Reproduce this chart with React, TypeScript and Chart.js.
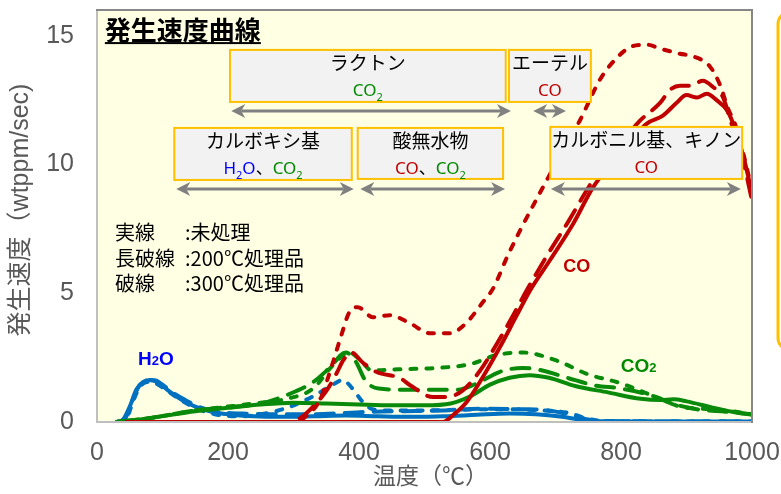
import React, { useEffect, useRef } from 'react';
import { Chart, registerables } from 'chart.js';

Chart.register(...registerables);

// ---------- axis ticks ----------
const xTicks = [0, 200, 400, 600, 800, 1000];
const yTicks = [0, 5, 10, 15];

// ---------- series data: [temperature ℃, rate wtppm/sec] ----------
type P = [number, number];

const coSolid: P[] = [[45,0],[528,0],[545,0.3],[565,0.8],[595,2.0],[615,2.9],[640,4.1],[661,5.1],[692,6.3],[727,7.7],[757,9.1],[790,10.2],[820,11.1],[840,11.6],[864,11.9],[885,12.4],[900,12.7],[916,12.6],[931,12.75],[946,12.5],[962,12.1],[971,11.6],[986,10.4],[1000,8.9]];
const coLong: P[] = [[45,0],[295,0],[310,0.15],[330,0.6],[351,1.24],[366,1.9],[376,2.4],[388,2.7],[406,2.3],[427,1.94],[463,1.7],[478,1.43],[513,0.97],[534,0.97],[559,1.24],[585,2.0],[605,2.8],[630,3.9],[658,5.2],[688,6.5],[720,7.8],[755,9.3],[790,10.5],[829,11.7],[860,12.4],[875,12.9],[890,13.06],[905,13.06],[925,13.25],[941,13.0],[956,12.6],[966,11.8],[986,10.2],[1000,8.6]];
const coShort: P[] = [[45,0],[305,0],[318,0.2],[340,0.85],[360,2.3],[371,3.2],[386,4.3],[398,4.46],[421,4.07],[447,4.15],[478,3.83],[508,3.45],[539,3.45],[562,3.8],[589,4.65],[605,5.2],[626,6.4],[646,7.44],[672,8.7],[689,9.5],[710,10.5],[737,11.7],[768,13.3],[794,14.15],[818,14.6],[840,14.65],[860,14.5],[890,14.3],[910,14.2],[936,13.8],[951,13.1],[963,12.2],[975,11.5],[988,10.3],[1000,9.0]];

const co2Solid: P[] = [[30,0],[80,0.15],[150,0.42],[200,0.55],[250,0.68],[300,0.75],[350,0.72],[400,0.68],[450,0.65],[500,0.65],[540,0.72],[570,1.0],[600,1.45],[630,1.72],[660,1.82],[690,1.72],[730,1.4],[780,1.15],[830,0.9],[860,0.85],[880,0.88],[900,0.8],[940,0.56],[970,0.4],[1000,0.28]];
const co2Long: P[] = [[30,0],[80,0.15],[150,0.45],[200,0.58],[250,0.72],[290,1.05],[330,1.55],[355,2.1],[380,2.7],[395,2.35],[410,1.6],[430,1.3],[480,1.25],[550,1.25],[580,1.5],[615,1.95],[650,2.1],[680,2.0],[720,1.7],[760,1.42],[800,1.3],[850,1.0],[880,0.7],[920,0.48],[960,0.4],[1000,0.3]];
const co2Short: P[] = [[30,0],[80,0.15],[150,0.45],[200,0.6],[250,0.75],[290,0.9],[330,1.3],[360,2.2],[385,2.7],[400,2.45],[420,2.0],[460,2.05],[520,2.1],[570,2.25],[610,2.6],[650,2.7],[700,2.4],[750,1.85],[800,1.5],[850,1.0],[890,0.6],[930,0.5],[970,0.42],[1000,0.3]];

const h2oSolid: P[] = [[30,0],[40,0.1],[50,0.6],[60,1.25],[70,1.55],[82,1.63],[95,1.5],[110,1.2],[130,0.85],[150,0.6],[175,0.4],[200,0.3],[240,0.22],[280,0.2],[330,0.22],[380,0.25],[430,0.22],[480,0.2],[530,0.22],[580,0.28],[630,0.33],[670,0.3],[710,0.2],[740,0.08],[770,0.03],[850,0.02],[1000,0.02]];
const h2oLong: P[] = [[30,0],[42,0.1],[52,0.7],[62,1.3],[74,1.6],[88,1.62],[100,1.45],[115,1.15],[135,0.85],[160,0.55],[190,0.38],[230,0.32],[280,0.3],[330,0.3],[380,0.35],[420,0.4],[470,0.42],[530,0.45],[590,0.52],[640,0.5],[690,0.45],[720,0.3],[750,0.1],[780,0.03],[1000,0.02]];
const h2oShort: P[] = [[30,0],[45,0.15],[55,0.8],[65,1.35],[78,1.55],[90,1.5],[105,1.25],[125,0.9],[150,0.55],[180,0.3],[220,0.22],[250,0.3],[290,0.55],[330,1.0],[360,1.45],[375,1.63],[390,1.3],[405,0.8],[420,0.5],[440,0.45],[500,0.45],[560,0.48],[620,0.5],[680,0.45],[720,0.35],[750,0.12],[780,0.03],[1000,0.02]];

// ---------- styles ----------
const RED = '#c00000';
const GREEN = '#0a8a0a';
const BLUE = '#0070c0';
const TXT_RED = '#c00000';
const TXT_GREEN = '#008a00';
const TXT_BLUE = '#0000ff';
const AXIS_GRAY = '#595959';
const LONG = [18, 11];
const SHORT = [6, 10];
const JP = '"Noto Sans CJK JP"';
const LAT = '"Liberation Sans", Arial';

const seriesDefs = [
  { label: 'CO 300℃処理品', pts: coShort, color: RED, dash: SHORT },
  { label: 'CO 200℃処理品', pts: coLong, color: RED, dash: LONG },
  { label: 'CO 未処理', pts: coSolid, color: RED, dash: [] as number[] },
  { label: 'CO2 300℃処理品', pts: co2Short, color: GREEN, dash: SHORT },
  { label: 'CO2 200℃処理品', pts: co2Long, color: GREEN, dash: LONG },
  { label: 'CO2 未処理', pts: co2Solid, color: GREEN, dash: [] as number[] },
  { label: 'H2O 300℃処理品', pts: h2oShort, color: BLUE, dash: SHORT },
  { label: 'H2O 200℃処理品', pts: h2oLong, color: BLUE, dash: LONG },
  { label: 'H2O 未処理', pts: h2oSolid, color: BLUE, dash: [] as number[] },
];

// ---------- annotations (data coordinates) ----------
type Run = { t: string; c: string; sub?: boolean };
const boxes: { x0: number; x1: number; yTop: number; yBot: number; title: string; runs: Run[] }[] = [
  { x0: 203, x1: 624, yTop: 14.45, yBot: 12.43, title: 'ラクトン', runs: [{ t: 'CO', c: TXT_GREEN }, { t: '2', c: TXT_GREEN, sub: true }] },
  { x0: 629, x1: 754, yTop: 14.45, yBot: 12.43, title: 'エーテル', runs: [{ t: 'CO', c: TXT_RED }] },
  { x0: 118, x1: 389, yTop: 11.42, yBot: 9.40, title: 'カルボキシ基', runs: [{ t: 'H', c: TXT_BLUE }, { t: '2', c: TXT_BLUE, sub: true }, { t: 'O', c: TXT_BLUE }, { t: '、', c: '#000' }, { t: 'CO', c: TXT_GREEN }, { t: '2', c: TXT_GREEN, sub: true }] },
  { x0: 398, x1: 620, yTop: 11.42, yBot: 9.44, title: '酸無水物', runs: [{ t: 'CO', c: TXT_RED }, { t: '、', c: '#000' }, { t: 'CO', c: TXT_GREEN }, { t: '2', c: TXT_GREEN, sub: true }] },
  { x0: 692, x1: 985, yTop: 11.46, yBot: 9.44, title: 'カルボニル基、キノン', runs: [{ t: 'CO', c: TXT_RED }] },
];
const arrows = [
  { x0: 205, x1: 632, y: 12.08 },
  { x0: 666, x1: 716, y: 12.08 },
  { x0: 121, x1: 392, y: 9.05 },
  { x0: 402, x1: 623, y: 9.05 },
  { x0: 693, x1: 983, y: 9.05 },
];
const legendLines = [
  { a: '実線', b: ':未処理', y: 7.38 },
  { a: '長破線', b: ':200℃処理品', y: 6.37 },
  { a: '破線', b: ':300℃処理品', y: 5.40 },
];

function drawRuns(ctx: CanvasRenderingContext2D, runs: Run[], cx: number, baseY: number, size: number, family: string, bold: boolean, subScale: number, subDy: number) {
  const font = (sub?: boolean) => `${bold ? 'bold ' : ''}${sub ? Math.round(size * subScale) : size}px ${family}`;
  let total = 0;
  for (const r of runs) { ctx.font = font(r.sub); total += ctx.measureText(r.t).width; }
  let x = cx - total / 2;
  ctx.textAlign = 'left';
  ctx.textBaseline = 'alphabetic';
  for (const r of runs) {
    ctx.font = font(r.sub);
    ctx.fillStyle = r.c;
    ctx.fillText(r.t, x, baseY + (r.sub ? subDy : 0));
    x += ctx.measureText(r.t).width;
  }
}

function drawArrow(ctx: CanvasRenderingContext2D, x0: number, x1: number, y: number) {
  const L = 14, W = 7, N = 4;
  ctx.strokeStyle = '#808080';
  ctx.fillStyle = '#808080';
  ctx.lineWidth = 3;
  ctx.beginPath();
  ctx.moveTo(x0 + L - N, y);
  ctx.lineTo(x1 - L + N, y);
  ctx.stroke();
  for (const [tip, dir] of [[x0, 1], [x1, -1]] as [number, number][]) {
    ctx.beginPath();
    ctx.moveTo(tip, y);
    ctx.lineTo(tip + dir * L, y - W);
    ctx.lineTo(tip + dir * (L - N), y);
    ctx.lineTo(tip + dir * L, y + W);
    ctx.closePath();
    ctx.fill();
  }
}

const decoPlugin = {
  id: 'deco',
  beforeDatasetsDraw(chart: any) {
    const { ctx, chartArea: a } = chart;
    ctx.save();
    ctx.fillStyle = '#ffffe4';
    ctx.fillRect(a.left, a.top, a.right - a.left, a.bottom - a.top);
    ctx.restore();
  },
  afterDatasetsDraw(chart: any) {
    const { ctx, chartArea: a } = chart;
    const xs = chart.scales.x, ys = chart.scales.y;
    const X = (v: number) => xs.getPixelForValue(v);
    const Y = (v: number) => ys.getPixelForValue(v);
    ctx.save();

    // plot frame
    ctx.lineWidth = 2;
    ctx.strokeStyle = '#bfbfbf';
    ctx.beginPath();
    ctx.moveTo(a.left, a.top); ctx.lineTo(a.left, a.bottom); ctx.lineTo(a.right, a.bottom);
    ctx.stroke();
    ctx.strokeStyle = '#878787';
    ctx.beginPath();
    ctx.moveTo(a.left - 1, a.top); ctx.lineTo(a.right, a.top); ctx.lineTo(a.right, a.bottom + 1);
    ctx.stroke();

    // right side partial box
    ctx.beginPath();
    const rx = X(1039.7), ry = Y(15.92);
    ctx.roundRect(rx, ry, 300, Y(2.8) - ry, 12);
    ctx.fillStyle = '#ffffff';
    ctx.fill();
    ctx.lineWidth = 3;
    ctx.strokeStyle = '#ffc000';
    ctx.stroke();

    // boxes
    for (const b of boxes) {
      const x0 = X(b.x0), x1 = X(b.x1), y0 = Y(b.yTop), y1 = Y(b.yBot);
      ctx.fillStyle = '#f2f2f2';
      ctx.fillRect(x0, y0, x1 - x0, y1 - y0);
      ctx.lineWidth = 2;
      ctx.strokeStyle = '#ffc000';
      ctx.strokeRect(x0, y0, x1 - x0, y1 - y0);
      const cx = (x0 + x1) / 2;
      ctx.fillStyle = '#000';
      ctx.font = `19px ${JP}`;
      ctx.textAlign = 'center';
      ctx.textBaseline = 'middle';
      ctx.fillText(b.title, cx, y0 + 13);
      drawRuns(ctx, b.runs, cx, y0 + 46, 17, `"Noto Sans", ${JP}`, false, 0.65, 5);
    }
    for (const ar of arrows) drawArrow(ctx, X(ar.x0), X(ar.x1), Y(ar.y));

    // title
    ctx.fillStyle = '#000';
    ctx.font = `bold 26px ${JP}`;
    ctx.textAlign = 'left';
    ctx.textBaseline = 'middle';
    const tx = X(12), ty = Y(15.22);
    const title = '発生速度曲線';
    ctx.fillText(title, tx, ty);
    const tw = ctx.measureText(title).width;
    ctx.fillRect(tx, ty + 12, tw, 2);

    // line-style legend
    ctx.font = `20px ${JP}`;
    for (const l of legendLines) {
      ctx.fillText(l.a, X(27.5), Y(l.y));
      ctx.fillText(l.b, X(134.4), Y(l.y));
    }

    // series labels
    drawRuns(ctx, [{ t: 'H', c: TXT_BLUE }, { t: '2', c: TXT_BLUE, sub: true }, { t: 'O', c: TXT_BLUE }], X(90), Y(2.49) + 7, 19, LAT, true, 0.7, 0);
    drawRuns(ctx, [{ t: 'CO', c: TXT_RED }], X(711) + 14, Y(6.10) + 7, 18, LAT, true, 0.7, 0);
    drawRuns(ctx, [{ t: 'CO', c: TXT_GREEN }, { t: '2', c: TXT_GREEN, sub: true }], X(798) + 19, Y(2.21) + 7, 19, LAT, true, 0.7, 0);

    // axis titles
    ctx.fillStyle = AXIS_GRAY;
    ctx.textAlign = 'center';
    ctx.textBaseline = 'middle';
    ctx.font = `23px ${LAT}, ${JP}`;
    ctx.fillText('温度（℃）', (a.left + a.right) / 2 + 6, a.bottom + 56);
    ctx.save();
    ctx.translate(21, (a.top + a.bottom) / 2 - 6);
    ctx.rotate(-Math.PI / 2);
    ctx.font = `25px ${LAT}, ${JP}`;
    ctx.fillText('発生速度（wtppm/sec)', 0, 0);
    ctx.restore();

    ctx.restore();
  },
};

export default function App() {
  const ref = useRef<HTMLCanvasElement>(null);
  useEffect(() => {
    const canvas = ref.current!;
    const chart = new Chart(canvas, {
      type: 'line',
      data: {
        datasets: seriesDefs.map((s) => ({
          label: s.label,
          data: s.pts.map(([x, y]) => ({ x, y })),
          borderColor: s.color,
          backgroundColor: s.color,
          borderWidth: 4,
          borderDash: s.dash,
          borderCapStyle: (s.dash.length ? 'round' : 'butt') as any,
          pointRadius: 0,
          fill: false,
          cubicInterpolationMode: 'monotone' as const,
        })),
      },
      options: {
        animation: false,
        responsive: false,
        devicePixelRatio: 1,
        layout: { padding: { top: 10, right: 29, left: 0, bottom: 0 }, autoPadding: false },
        plugins: { legend: { display: false }, tooltip: { enabled: false } },
        scales: {
          x: {
            type: 'linear',
            min: 0,
            max: 1000,
            afterBuildTicks: (s: any) => { s.ticks = xTicks.map((v) => ({ value: v })); },
            afterFit: (s: any) => { s.height = 72; s.paddingLeft = 0; s.paddingRight = 0; },
            ticks: { color: AXIS_GRAY, font: { family: LAT, size: 25 }, padding: 16, maxRotation: 0, callback: (v: any) => String(v) },
            grid: { display: false, drawTicks: false },
            border: { display: false },
          },
          y: {
            type: 'linear',
            min: 0,
            max: 16,
            afterBuildTicks: (s: any) => { s.ticks = yTicks.map((v) => ({ value: v })); },
            afterFit: (s: any) => { s.width = 97; s.paddingTop = 0; s.paddingBottom = 0; },
            ticks: { color: AXIS_GRAY, font: { family: LAT, size: 25 }, padding: 23, callback: (v: any) => String(v) },
            grid: { display: false, drawTicks: false },
            border: { display: false },
          },
        },
      },
      plugins: [decoPlugin],
    });
    return () => chart.destroy();
  }, []);
  return (
    <div style={{ position: 'fixed', left: 0, top: 0, width: 781, height: 494, background: '#fff' }}>
      <canvas ref={ref} width={781} height={494} style={{ display: 'block' }} />
    </div>
  );
}
